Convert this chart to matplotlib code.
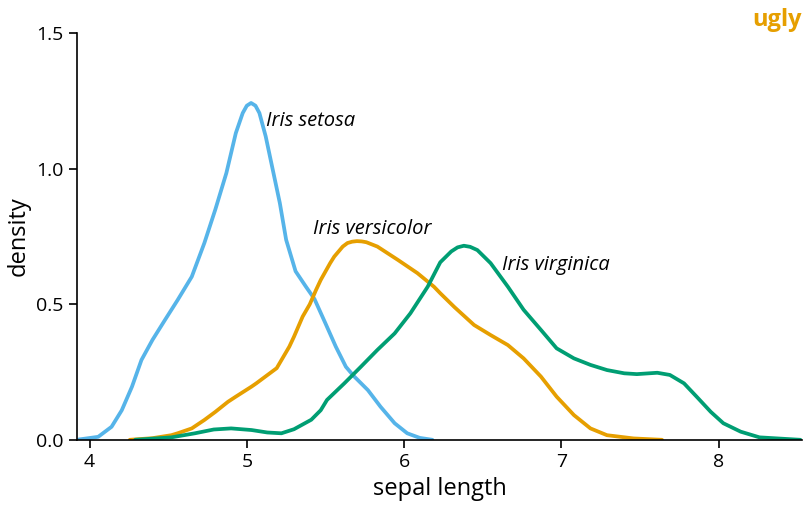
import matplotlib
matplotlib.use("Agg")
import matplotlib.pyplot as plt

# density curves (sepal length, density)
setosa_x = [3.93, 4.055, 4.14, 4.205, 4.27, 4.33, 4.40, 4.48, 4.56, 4.65, 4.73, 4.80, 4.87,
            4.93, 4.974, 5.00, 5.027, 5.055, 5.08, 5.12, 5.165, 5.21, 5.25, 5.31, 5.376,
            5.43, 5.50, 5.566, 5.63, 5.68, 5.77, 5.85, 5.94, 6.02, 6.10, 6.18]
setosa_y = [0.002, 0.012, 0.049, 0.11, 0.197, 0.295, 0.369, 0.443, 0.516, 0.602, 0.726,
            0.85, 0.984, 1.131, 1.205, 1.232, 1.242, 1.232, 1.205, 1.119, 0.996, 0.873,
            0.738, 0.622, 0.565, 0.52, 0.43, 0.344, 0.27, 0.236, 0.184, 0.123, 0.062,
            0.025, 0.008, 0.001]

versicolor_x = [4.256, 4.40, 4.52, 4.56, 4.65, 4.73, 4.80, 4.88, 4.93, 5.03, 5.06, 5.19,
                5.27, 5.30, 5.355, 5.40, 5.44, 5.47, 5.53, 5.556, 5.61, 5.64, 5.67, 5.70,
                5.73, 5.76, 5.83, 5.96, 6.085, 6.19, 6.23, 6.32, 6.445, 6.55, 6.66, 6.76,
                6.87, 6.97, 7.08, 7.185, 7.29, 7.46, 7.64]
versicolor_y = [0.001, 0.007, 0.018, 0.025, 0.043, 0.074, 0.104, 0.141, 0.16, 0.197, 0.209,
                0.265, 0.344, 0.381, 0.455, 0.50, 0.553, 0.59, 0.652, 0.676, 0.713, 0.726,
                0.731, 0.733, 0.732, 0.729, 0.713, 0.664, 0.615, 0.565, 0.541, 0.49, 0.424,
                0.387, 0.35, 0.301, 0.234, 0.16, 0.092, 0.043, 0.018, 0.006, 0.001]

virginica_x = [4.29, 4.52, 4.67, 4.79, 4.90, 5.03, 5.13, 5.22, 5.30, 5.41, 5.47, 5.51, 5.62,
               5.725, 5.83, 5.94, 6.04, 6.15, 6.23, 6.30, 6.34, 6.38, 6.42, 6.466, 6.55,
               6.66, 6.76, 6.87, 6.97, 7.08, 7.185, 7.29, 7.40, 7.48, 7.61, 7.69, 7.78,
               7.86, 7.95, 8.03, 8.14, 8.26, 8.52]
virginica_y = [0.001, 0.01, 0.025, 0.039, 0.043, 0.037, 0.028, 0.025, 0.04, 0.075, 0.11,
               0.148, 0.209, 0.27, 0.332, 0.393, 0.467, 0.565, 0.655, 0.695, 0.710, 0.716,
               0.712, 0.70, 0.652, 0.565, 0.48, 0.406, 0.338, 0.301, 0.277, 0.258, 0.246,
               0.243, 0.248, 0.24, 0.209, 0.16, 0.104, 0.062, 0.031, 0.01, 0.001]

labels = ["Iris setosa", "Iris versicolor", "Iris virginica"]
label_pos = [(5.125, 1.158), (5.42, 0.76), (6.62, 0.627)]
colors = ["#56B4E9", "#E69F00", "#009E73"]

plt.rcParams["font.family"] = ["Open Sans", "DejaVu Sans"]

fig = plt.figure(figsize=(8.06, 5.07), dpi=100)
ax = fig.add_axes([0.0955, 0.132, 0.8995, 0.803])

curves = [(setosa_x, setosa_y), (versicolor_x, versicolor_y), (virginica_x, virginica_y)]
for (xs, ys), c in zip(curves, colors):
    ax.plot(xs, ys, color=c, lw=2.7, solid_capstyle="round", solid_joinstyle="round")

for lab, (lx, ly) in zip(labels, label_pos):
    ax.text(lx, ly, lab, style="italic", fontsize=14.5, ha="left", va="baseline")

ax.set_xlim(3.92, 8.53)
ax.set_ylim(0, 1.5)
ax.set_xticks([4, 5, 6, 7, 8])
ax.set_yticks([0.0, 0.5, 1.0, 1.5])
ax.set_yticklabels(["0.0", "0.5", "1.0", "1.5"])
ax.tick_params(labelsize=14, length=6, width=1.2)
for s in ["top", "right"]:
    ax.spines[s].set_visible(False)
for s in ["left", "bottom"]:
    ax.spines[s].set_linewidth(1.2)
ax.set_xlabel("sepal length", fontsize=17)
ax.set_ylabel("density", fontsize=17)

fig.text(0.995, 0.985, "ugly", color="#E69F00", fontsize=17, fontweight="bold",
         ha="right", va="top")

fig.savefig("out.png", dpi=100)
